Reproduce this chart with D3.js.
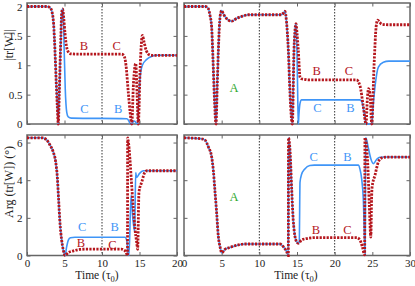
<!DOCTYPE html>
<html>
<head>
<meta charset="utf-8">
<script src="https://cdn.jsdelivr.net/npm/d3@7"></script>
<style>
  body { margin: 0; background: #fff; }
  svg { display: block; }
</style>
</head>
<body>
<svg id="chart" width="415" height="286"></svg>
<script>
"use strict";

// Axes
const timeTicksShort = [0, 5, 10, 15, 20];
const timeTicksLong = [0, 5, 10, 15, 20, 25, 30];
const magTicks = [0, 0.5, 1, 1.5, 2];
const magTickLabels = ["0", "0.5", "1", "1.5", "2"];
const argTicks = [0, 2, 4, 6];
const markerShort = [10];
const markerLong = [10, 20];

// |tr[W]|, run 0-20 (time, value)
const magShortRed = [[0,2],[2.6,2],[3.07,1.98],[3.35,1.9],[3.55,1.7],[3.73,1.25],[3.9,0.7],[4.04,0.3],[4.17,0],
  [4.3,0.5],[4.4,0.97],[4.52,1.5],[4.62,1.88],[4.75,1.96],[4.9,1.8],[5.07,1.54],[5.3,1.3],[5.7,1.2],[6.5,1.19],
  [12.6,1.19],[12.9,1.17],[13.2,1.0],[13.5,0.55],[13.75,0.2],[13.96,0],[14.2,0.7],[14.5,1.03],[14.68,0.5],[14.84,0],
  [15.1,1],[15.38,1.51],[15.6,1.4],[15.9,1.25],[16.3,1.18],[16.6,1.17],[20,1.17]];
const magShortBlue = [[0,2],[2.6,2],[3.07,1.98],[3.35,1.9],[3.55,1.7],[3.73,1.25],[3.9,0.7],[4.04,0.3],[4.17,0],
  [4.3,0.5],[4.4,0.97],[4.52,1.5],[4.62,1.88],[4.75,1.96],[4.84,1.85],[4.95,1.3],[5.1,0.6],[5.3,0.2],[5.5,0.12],
  [5.9,0.1],[13.3,0.09],[13.55,0.06],[13.8,0],[14.05,0.02],[14.3,0.05],[14.55,0.02],[14.75,0],[14.88,0.35],
  [15.07,0.78],[15.38,1.0],[15.96,1.1],[16.6,1.15],[17.3,1.17],[20,1.17]];

// |tr[W]|, run 0-30
const magLongRed = [[0,2],[2.8,2],[3.2,1.97],[3.45,1.85],[3.67,1.65],[3.85,1.1],[4.02,0.5],[4.25,0],[4.4,0.6],
  [4.56,1.25],[4.8,1.84],[5,1.93],[5.2,1.88],[5.44,1.83],[5.9,1.77],[6.33,1.75],[7,1.8],[7.88,1.84],[8.5,1.86],
  [12.9,1.86],[13.2,1.89],[13.4,1.92],[13.6,1.75],[13.85,1.26],[14.07,0.52],[14.38,0],[14.6,1.25],[14.8,1.68],
  [14.87,1.71],[15,1.55],[15.17,1.26],[15.4,0.8],[15.6,0.77],[16,0.76],[16.5,0.75],[22.9,0.75],[23.36,0.65],
  [23.8,0.3],[24.16,0],[24.35,0.45],[24.5,0.6],[24.7,0.5],[24.92,0],[25.22,0.97],[25.5,1.65],[25.7,1.77],
  [26,1.73],[26.24,1.7],[27.1,1.69],[30,1.69]];
const magLongBlue = [[0,2],[2.8,2],[3.2,1.97],[3.45,1.85],[3.67,1.65],[3.85,1.1],[4.02,0.5],[4.25,0],[4.4,0.6],
  [4.56,1.25],[4.8,1.84],[5,1.93],[5.2,1.88],[5.44,1.83],[5.9,1.77],[6.33,1.75],[7,1.8],[7.88,1.84],[8.5,1.86],
  [12.9,1.86],[13.2,1.89],[13.4,1.92],[13.6,1.75],[13.85,1.26],[14.07,0.52],[14.38,0],[14.6,1.25],[14.8,1.68],
  [14.87,1.71],[15,1.2],[15.12,0.3],[15.18,0],[15.25,0.15],[15.4,0.35],[15.6,0.41],[23.3,0.41],[23.6,0.38],
  [23.9,0.2],[24.2,0],[24.92,0],[25.1,0.3],[25.35,0.63],[25.8,0.97],[26.46,1.05],[27.2,1.07],[30,1.07]];

// Arg(tr[W]), run 0-20
const argShortRed = [[0,6.25],[2,6.25],[2.6,6.15],[3.07,5.86],[3.5,5.5],[3.82,4.98],[4.04,4.18],[4.22,2.94],
  [4.4,1.71],[4.62,0.82],[4.84,0.29],[5.07,0],[5.5,0.15],[6.2,0.25],[7,0.32],[8,0.34],[12.6,0.34],[12.9,0.3],
  [13.2,0.18],[13.4,0],[13.42,6.25],[13.5,6.1],[13.73,5.1],[13.96,3.7],[14.18,2.5],[14.4,1.4],[14.62,0.72],
  [14.75,0.33],[14.93,3.37],[15.3,3.9],[15.73,4.43],[16.04,4.5],[20,4.5]];
const argShortBlue = [[0,6.25],[2,6.25],[2.6,6.15],[3.07,5.86],[3.5,5.5],[3.82,4.98],[4.04,4.18],[4.22,2.94],
  [4.4,1.71],[4.62,0.82],[4.84,0.29],[5.07,0],[5.29,0.47],[5.51,0.82],[5.8,0.94],[6.4,0.97],[13.07,0.97],
  [13.3,0.8],[13.5,0.1],[13.6,0],[13.87,3.2],[14.1,2.0],[14.36,1.26],[14.49,4.4],[14.62,4.15],[14.98,4.35],
  [15.5,4.5],[20,4.5]];

// Arg(tr[W]), run 0-30
const argLongRed = [[0,6.25],[2.3,6.2],[2.79,6.13],[3.23,5.77],[3.67,5.24],[3.89,4.54],[4.1,3.47],[4.34,2.23],
  [4.56,1],[4.78,0.47],[5,0.15],[5.44,0.33],[6.1,0.43],[7.2,0.56],[8.1,0.61],[12.74,0.61],[13.18,0.47],
  [13.63,0.2],[13.85,0],[13.87,6.25],[14.07,5.6],[14.3,3.47],[14.5,1.88],[14.74,1],[14.96,0.73],[15.18,0.65],
  [15.6,0.82],[16.28,0.9],[16.95,0.94],[17.5,0.95],[22.92,0.95],[23.36,0.82],[23.67,0.47],[23.98,0.03],
  [24.02,6.25],[24.2,5.9],[24.4,4.79],[24.6,2.67],[24.8,0.98],[24.9,3.0],[24.97,3.64],[25.35,4.26],
  [25.8,4.97],[26.24,5.18],[26.9,5.23],[30,5.23]];
const argLongBlue = [[0,6.25],[2.3,6.2],[2.79,6.13],[3.23,5.77],[3.67,5.24],[3.89,4.54],[4.1,3.47],[4.34,2.23],
  [4.56,1],[4.78,0.47],[5,0.15],[5.44,0.33],[6.1,0.43],[7.2,0.56],[8.1,0.61],[12.74,0.61],[13.18,0.47],
  [13.63,0.2],[13.85,0],[13.87,6.25],[14.07,5.6],[14.3,3.47],[14.5,1.88],[14.74,1],[14.96,0.73],[15.18,0.65],
  [15.3,0.7],[15.4,3.9],[15.6,4.3],[16.04,4.6],[16.7,4.78],[17.3,4.8],[23.14,4.8],[23.35,4.6],[23.58,4.08],
  [23.8,3.0],[24.0,0.5],[24.07,0],[24.09,6.25],[24.2,6.2],[24.4,5.85],[24.8,5.14],[25.13,4.88],[25.57,5.1],
  [26,5.22],[27,5.23],[30,5.23]];

const RED = "#b5161d";
const BLUE = "#3f95f7";
const GREEN = "#2ea82e";
const FRAME = "#666";
const FONT = "'Liberation Serif', 'Times New Roman', serif";

const svg = d3.select("#chart").attr("font-family", FONT);

const panels = [
  { x: [27, 177], y: [124, 3], tMax: 20, vMax: 2.06, tTicks: timeTicksShort, vTicks: magTicks, vLabels: magTickLabels,
    showT: false, marks: markerShort, red: magShortRed, blue: magShortBlue,
    notes: [["B", 7.6, 1.33, RED], ["C", 11.95, 1.33, RED], ["C", 7.65, 0.25, BLUE], ["B", 12.15, 0.25, BLUE]] },
  { x: [184, 410], y: [124, 3], tMax: 30, vMax: 2.06, tTicks: timeTicksLong, vTicks: magTicks, vLabels: null,
    showT: false, marks: markerLong, red: magLongRed, blue: magLongBlue,
    notes: [["A", 6.65, 0.62, GREEN], ["B", 17.6, 0.9, RED], ["C", 21.9, 0.9, RED], ["C", 17.7, 0.28, BLUE], ["B", 22.1, 0.28, BLUE]] },
  { x: [27, 177], y: [255.5, 135], tMax: 20, vMax: 6.4, tTicks: timeTicksShort, vTicks: argTicks, vLabels: argTicks.map(String),
    showT: true, tLabelX: 97, marks: markerShort, red: argShortRed, blue: argShortBlue,
    notes: [["C", 7.35, 1.5, BLUE], ["B", 11.7, 1.5, BLUE], ["B", 7.2, 0.66, RED], ["C", 11.4, 0.57, RED]] },
  { x: [184, 410], y: [255.5, 135], tMax: 30, vMax: 6.4, tTicks: timeTicksLong, vTicks: argTicks, vLabels: null,
    showT: true, tLabelX: 296, marks: markerLong, red: argLongRed, blue: argLongBlue,
    notes: [["A", 6.65, 3.12, GREEN], ["C", 17.2, 5.25, BLUE], ["B", 21.7, 5.25, BLUE], ["B", 17.5, 1.35, RED], ["C", 21.7, 1.35, RED]] }
];

panels.forEach(p => {
  const xs = d3.scaleLinear().domain([0, p.tMax]).range(p.x);
  const ys = d3.scaleLinear().domain([0, p.vMax]).range(p.y);
  const g = svg.append("g");

  // dotted time markers
  g.selectAll("line.marker")
      .data(p.marks)
    .enter().append("line")
      .attr("x1", d => xs(d)).attr("x2", d => xs(d))
      .attr("y1", p.y[1]).attr("y2", p.y[0])
      .attr("stroke", "#333")
      .attr("stroke-width", 1)
      .attr("stroke-dasharray", "1.5,1.5");

  // ticks on all four sides, pointing inward
  const axes = [
    [d3.axisBottom(xs).tickValues(p.tTicks), `translate(0,${p.y[0]})`, p.showT],
    [d3.axisTop(xs).tickValues(p.tTicks), `translate(0,${p.y[1]})`, false],
    [d3.axisLeft(ys).tickValues(p.vTicks), `translate(${p.x[0]},0)`, !!p.vLabels],
    [d3.axisRight(ys).tickValues(p.vTicks), `translate(${p.x[1]},0)`, false]
  ];
  axes.forEach(([axis, tr, labelled], i) => {
    axis.tickSize(-3.5).tickPadding(i === 0 ? 4 : 4.5);
    if (!labelled) axis.tickFormat("");
    else if (i === 2) axis.tickFormat((d, k) => p.vLabels[k]);
    const a = g.append("g").attr("transform", tr).call(axis)
        .attr("font-family", FONT)
        .attr("font-size", 11);
    a.select(".domain").remove();
    a.selectAll(".tick line").attr("stroke", FRAME).attr("stroke-width", 1);
    a.selectAll(".tick text").attr("fill", "#222");
  });

  g.append("rect")
      .attr("x", p.x[0]).attr("y", p.y[1])
      .attr("width", p.x[1] - p.x[0]).attr("height", p.y[0] - p.y[1])
      .attr("fill", "none")
      .attr("stroke", FRAME)
      .attr("stroke-width", 1.5);

  const line = d3.line()
      .x(d => xs(d[0]))
      .y(d => ys(d[1]))
      .curve(d3.curveMonotoneX);

  g.append("path")
      .attr("d", line(p.blue))
      .attr("fill", "none")
      .attr("stroke", BLUE)
      .attr("stroke-width", 1.6);

  g.append("path")
      .attr("d", line(p.red))
      .attr("fill", "none")
      .attr("stroke", RED)
      .attr("stroke-width", 2.8)
      .attr("stroke-dasharray", "2.2,1.3");

  g.selectAll("text.note")
      .data(p.notes)
    .enter().append("text")
      .attr("x", d => xs(d[1]))
      .attr("y", d => ys(d[2]))
      .attr("text-anchor", "middle")
      .attr("dominant-baseline", "central")
      .attr("font-family", FONT)
      .attr("font-size", 12.5)
      .attr("fill", d => d[3])
      .text(d => d[0]);

  if (p.showT) {
    const t = g.append("text")
        .attr("x", p.tLabelX)
        .attr("y", 279)
        .attr("text-anchor", "middle")
        .attr("font-family", FONT)
        .attr("font-size", 11.5)
        .attr("fill", "#222");
    t.append("tspan").text("Time (τ");
    t.append("tspan").attr("dy", 3).attr("font-size", 8.5).text("0");
    t.append("tspan").attr("dy", -3).text(")");
  }
});

svg.append("text")
    .attr("transform", "translate(13,45) rotate(-90)")
    .attr("text-anchor", "middle")
    .attr("font-family", FONT)
    .attr("font-size", 12)
    .attr("fill", "#222")
    .text("|tr[W]|");

svg.append("text")
    .attr("transform", "translate(13,182) rotate(-90)")
    .attr("text-anchor", "middle")
    .attr("font-family", FONT)
    .attr("font-size", 12)
    .attr("fill", "#222")
    .text("Arg (tr[W]) (°)");
</script>
</body>
</html>
